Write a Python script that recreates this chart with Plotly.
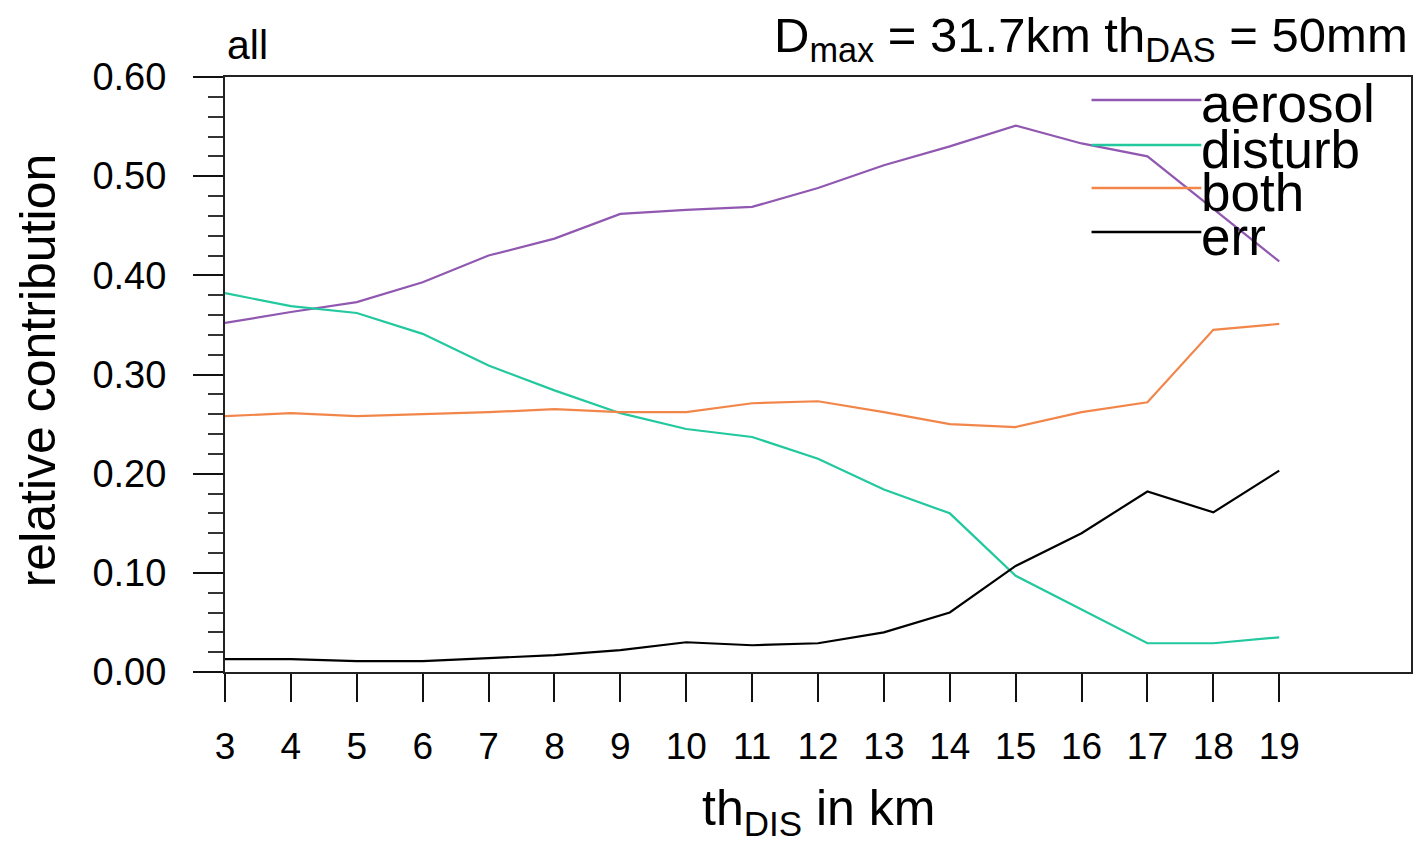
import plotly.graph_objects as go

# ---- data ----
th_dis = [3, 4, 5, 6, 7, 8, 9, 10, 11, 12, 13, 14, 15, 16, 17, 18, 19]
aerosol = [0.352, 0.363, 0.373, 0.393, 0.420, 0.437, 0.462, 0.466, 0.469, 0.488,
           0.511, 0.530, 0.551, 0.533, 0.520, 0.467, 0.414]
disturb = [0.382, 0.369, 0.362, 0.341, 0.309, 0.284, 0.261, 0.245, 0.237, 0.215,
           0.184, 0.160, 0.097, 0.063, 0.029, 0.029, 0.035]
both = [0.258, 0.261, 0.258, 0.260, 0.262, 0.265, 0.262, 0.262, 0.271, 0.273,
        0.262, 0.250, 0.247, 0.262, 0.272, 0.345, 0.351]
err = [0.013, 0.013, 0.011, 0.011, 0.014, 0.017, 0.022, 0.030, 0.027, 0.029,
       0.040, 0.060, 0.107, 0.140, 0.182, 0.161, 0.203]

series_names = ["aerosol", "disturb", "both", "err"]
series_values = [aerosol, disturb, both, err]
series_colors = ["#9058b0", "#22c89e", "#f2864a", "#000000"]

y_ticks = [0.0, 0.1, 0.2, 0.3, 0.4, 0.5, 0.6]
y_tick_labels = ["0.00", "0.10", "0.20", "0.30", "0.40", "0.50", "0.60"]
x_ticks = th_dis

FONT = "Liberation Sans, Arial, Helvetica, sans-serif"

fig = go.Figure()
for name, vals, col in zip(series_names, series_values, series_colors):
    fig.add_trace(go.Scatter(x=th_dis, y=vals, mode="lines", name=name,
                             line=dict(color=col, width=2.2), showlegend=False))

W, H = 1423, 842
L, R, T, B = 225, 10, 77, 170
pw, ph = W - L - R, H - T - B


def px(x):
    return (x - L) / pw


def py(y):
    return (H - B - y) / ph


fig.update_layout(
    width=W, height=H,
    margin=dict(l=L, r=R, t=T, b=B, pad=0),
    paper_bgcolor="white", plot_bgcolor="white",
    font=dict(family=FONT, color="black"),
    xaxis=dict(range=[3, 21], tickvals=x_ticks, ticktext=[str(v) for v in x_ticks],
               ticks="outside", ticklen=28, tickwidth=2, tickcolor="#111",
               showline=True, linecolor="#222", linewidth=2, mirror=True,
               showgrid=False, zeroline=False, tickfont=dict(size=37, family=FONT),
               ticklabelstandoff=13),
    yaxis=dict(range=[0, 0.6], tickvals=y_ticks, ticktext=y_tick_labels,
               ticks="outside", ticklen=30, tickwidth=2, tickcolor="#111",
               minor=dict(dtick=0.02, ticks="outside", ticklen=15, tickwidth=1.5,
                          tickcolor="#333", showgrid=False),
               showline=True, linecolor="#222", linewidth=2, mirror=True,
               showgrid=False, zeroline=False, tickfont=dict(size=38, family=FONT),
               ticklabelstandoff=19),
)

annotations = [
    dict(text="th<sub>DIS</sub> in km", x=0.5, y=py(811), xref="paper", yref="paper",
         xanchor="center", yanchor="middle", showarrow=False,
         font=dict(size=50, family=FONT)),
    dict(text="relative contribution", x=px(38), y=py(370), xref="paper", yref="paper",
         xanchor="center", yanchor="middle", textangle=-90, showarrow=False,
         font=dict(size=50, family=FONT)),
    dict(text="all", x=0, y=py(70), xref="paper", yref="paper",
         xanchor="left", yanchor="bottom", showarrow=False,
         font=dict(size=41, family=FONT)),
    dict(text="D<sub>max</sub> = 31.7km th<sub>DAS</sub> = 50mm", x=px(1412), y=py(38),
         xref="paper", yref="paper", xanchor="right", yanchor="middle",
         showarrow=False, font=dict(size=49, family=FONT)),
]

legend_y = [100, 145, 188, 232]
shapes = []
for name, col, yy in zip(series_names, series_colors, legend_y):
    shapes.append(dict(type="line", xref="paper", yref="paper",
                       x0=px(1093), x1=px(1203), y0=py(yy), y1=py(yy),
                       line=dict(color=col, width=2.5)))
    annotations.append(dict(text=name, x=px(1201), y=py(yy + 4), xref="paper",
                            yref="paper", xanchor="left", yanchor="middle",
                            showarrow=False, font=dict(size=53, family=FONT)))

fig.update_layout(annotations=annotations, shapes=shapes)
fig.write_html("out.html")
